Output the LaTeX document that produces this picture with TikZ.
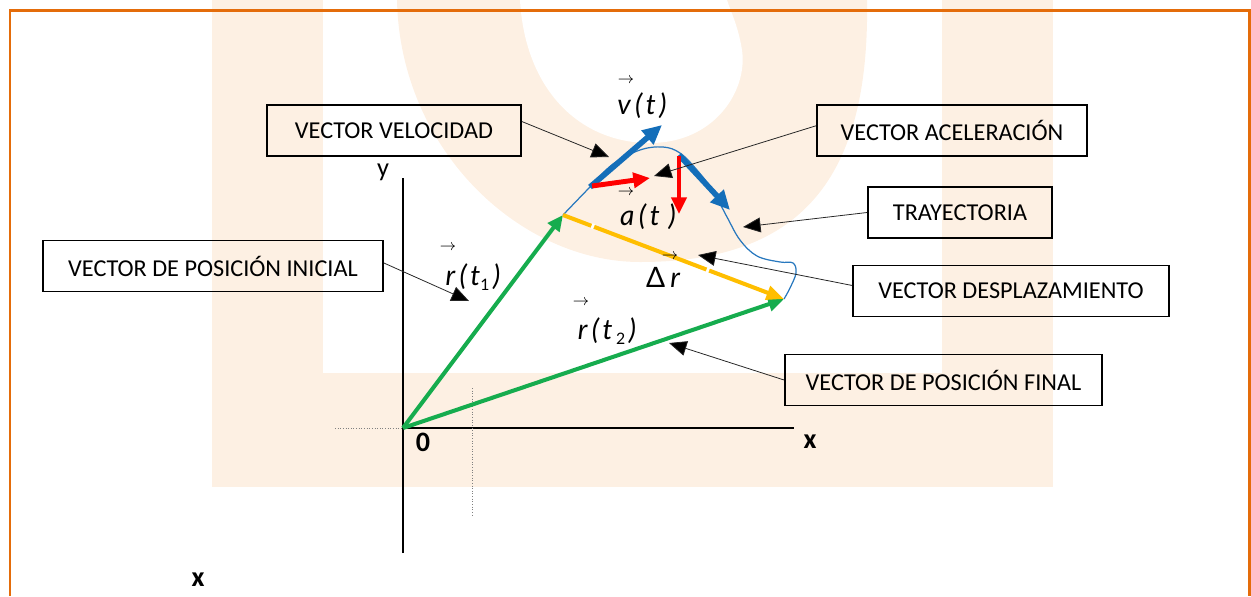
\documentclass[tikz,border=0pt]{standalone}
\usepackage{fontspec}
\setmainfont{Carlito}
\newfontfamily\lblfont{Lato}
\usetikzlibrary{arrows.meta}
\definecolor{wm}{RGB}{253,240,227}
\definecolor{brd}{RGB}{228,108,10}
\definecolor{vgreen}{RGB}{22,172,78}
\definecolor{vblue}{RGB}{20,110,185}
\definecolor{cblue}{RGB}{40,120,190}
\definecolor{vyellow}{RGB}{255,190,0}
\definecolor{vred}{RGB}{255,0,0}
\begin{document}
\begin{tikzpicture}[x=0.02cm,y=-0.02cm,
  box/.style={draw=black,line width=1.1pt,minimum height=1.02cm,inner sep=0pt,font=\fontsize{13.8}{16}\selectfont},
  leader/.style={line width=0.45pt,draw=black!85,-{Triangle[length=10pt,width=8.5pt,fill=black]}},
  greenvec/.style={vgreen,line width=2.3pt,-{Triangle[length=9pt,width=8pt]}},
  yellowvec/.style={vyellow,line width=2.3pt,-{Triangle[length=10pt,width=8pt]}},
  bluevec/.style={vblue,line width=3.2pt,-{Triangle[length=11pt,width=10pt]}},
  redvec/.style={vred,line width=2.8pt,-{Triangle[length=9.5pt,width=8.5pt]}},
  gapmark/.style={white,line width=3.2pt},
  lbl/.style={inner sep=0pt,font=\lblfont\itshape\fontsize{16}{18}\selectfont},
  smallarr/.style={inner sep=0pt,font=\fontsize{9}{10}\selectfont},
  axislbl/.style={inner sep=0pt,font=\bfseries\fontsize{16}{18}\selectfont}]
\useasboundingbox (0,0) rectangle (1251,596);
% watermark
\fill[wm] (212,0) rectangle (323,487);
\fill[wm] (942,0) rectangle (1053,487);
\fill[wm] (212,373) rectangle (1053,487);
\fill[wm] (397,0) .. controls (400,150) and (520,262) .. (640,262) .. controls (800,262) and (870,180) .. (867,0) -- cycle;
\fill[white] (520,0) .. controls (525,90) and (580,143) .. (650,143) .. controls (715,143) and (748,90) .. (742,50) .. controls (738,25) and (730,10) .. (727,0) -- cycle;
% border
\draw[brd,line width=1.7pt] (10,596) -- (10,10.5) -- (1249.5,10.5) -- (1249.5,596);
% axes
\coordinate (O) at (403,428);
\coordinate (ytop) at (403,178);
\coordinate (ybot) at (403,553);
\coordinate (xend) at (794,428);
\coordinate (xdot) at (335,428);
\coordinate (vdtop) at (472,388);
\coordinate (vdbot) at (472,517);
\draw[line width=0.9pt] (ybot) -- (ytop);
\draw[line width=0.9pt] (O) -- (xend);
\draw[gray,line width=0.5pt,densely dotted] (xdot) -- (O);
\draw[gray,line width=0.5pt,densely dotted] (vdtop) -- (vdbot);
\node[inner sep=0pt,font=\fontsize{15}{17}\selectfont] (ylab) at (383,172) {y};
\node[axislbl] (zero) at (423,442) {0};
\node[axislbl] (xlab) at (810,442) {x};
\node[axislbl] (xlow) at (198,580) {x};
% points
\coordinate (P1) at (563,215);
\coordinate (P2) at (784,299);
% trajectory
\draw[cblue,line width=0.7pt] plot[smooth,tension=0.6] coordinates {(563,215) (590,187) (613,164) (640,150) (663,147) (680,153) (697,170) (713,191) (727,217) (740,240) (757,256) (780,262) (793,263) (796,273) (790,288) (784,299)};
% vectors
\draw[greenvec] (O) -- (P1);
\draw[greenvec] (O) -- (P2);
\draw[yellowvec] (P1) -- (P2);
\coordinate (g1a) at (591.5,225.8);
\coordinate (g1b) at (594,226.8);
\coordinate (g2a) at (706.5,269.6);
\coordinate (g2b) at (709,270.6);
\draw[gapmark] (g1a) -- (g1b);
\draw[gapmark] (g2a) -- (g2b);
\coordinate (vt) at (590,187);
\coordinate (vh) at (662,125);
\coordinate (v2t) at (679,155);
\coordinate (v2h) at (730,210);
\coordinate (at1) at (592,186);
\coordinate (ah1) at (650,178);
\coordinate (at2) at (679,156);
\coordinate (ah2) at (679,214);
\draw[bluevec] (vt) -- (vh);
\draw[bluevec] (v2t) -- (v2h);
\draw[redvec] (at1) -- (ah1);
\draw[redvec] (at2) -- (ah2);
% vector labels
\node[smallarr] (varr) at (626,81) {$\rightarrow$};
\node[lbl] (vlab) at (642,106) {v\hspace{2.5pt}(\hspace{2pt}t\hspace{2pt})};
\node[smallarr] (aarr) at (626,193) {$\rightarrow$};
\node[lbl] (alab) at (648,217) {a\hspace{2.5pt}(\hspace{2pt}t\hspace{5pt})};
\node[smallarr] (darr) at (670,257) {$\rightarrow$};
\node[lbl] (dlab) at (663,277) {{\upshape\char"0394}\hspace{3pt}r};
\node[smallarr] (r1arr) at (448,248) {$\rightarrow$};
\node[lbl] (r1lab) at (473,277) {r\hspace{2.5pt}(\hspace{2pt}t\raisebox{-3pt}{\fontsize{9}{10}\selectfont\upshape 1}\hspace{2pt})};
\node[smallarr] (r2arr) at (581,303) {$\rightarrow$};
\node[lbl] (r2lab) at (607,331) {r\hspace{2.5pt}(\hspace{2pt}t\hspace{2pt}\raisebox{-3pt}{\fontsize{9}{10}\selectfont\upshape 2}\hspace{2pt})};
% boxes
\node[box,minimum width=5.08cm] (vel) at (394,130.5) {VECTOR VELOCIDAD};
\node[box,minimum width=5.4cm] (acel) at (952,130.5) {VECTOR ACELERACIÓN};
\node[box,minimum width=3.68cm] (tray) at (960,212.5) {TRAYECTORIA};
\node[box,minimum width=6.32cm] (desp) at (1011,291) {VECTOR DESPLAZAMIENTO};
\node[box,minimum width=6.34cm] (fin) at (943.5,380) {VECTOR DE POSICIÓN FINAL};
\node[box,minimum width=6.8cm] (ini) at (213,266) {VECTOR DE POSICIÓN INICIAL};
% leader tips
\coordinate (velTip) at (609,157);
\coordinate (acelTip) at (654,176);
\coordinate (trayTip) at (743,227);
\coordinate (despTip) at (698,255);
\coordinate (finTip) at (669,343);
\coordinate (iniTip) at (469,301);
\draw[leader] (vel.4) -- (velTip);
\draw[leader] (acel.178) -- (acelTip);
\draw[leader] (tray.west) -- (trayTip);
\draw[leader] (desp.178) -- (despTip);
\draw[leader] (fin.west) -- (finTip);
\draw[leader] (ini.1) -- (iniTip);
\end{tikzpicture}
\end{document}
